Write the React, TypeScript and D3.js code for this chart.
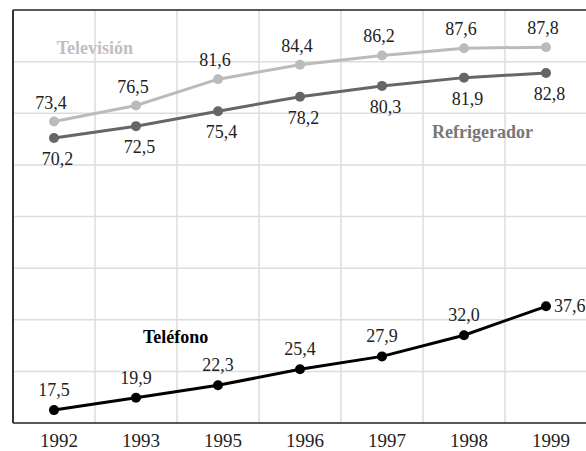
import React from "react";
import * as d3 from "d3";

const years = ["1992", "1993", "1995", "1996", "1997", "1998", "1999"];
const television = [73.4, 76.5, 81.6, 84.4, 86.2, 87.6, 87.8];
const refrigerador = [70.2, 72.5, 75.4, 78.2, 80.3, 81.9, 82.8];
const telefono = [17.5, 19.9, 22.3, 25.4, 27.9, 32.0, 37.6];
const yTicks = [15, 25, 35, 45, 55, 65, 75, 85, 95];

const W = 586;
const H = 451;
const left = 13;
const right = 587;
const top = 10;
const bottom = 423;

const fmt = (v: number) => v.toFixed(1).replace(".", ",");
const serif = "Liberation Serif, Times New Roman, serif";
const ts: React.CSSProperties = { fontFamily: serif };

export default function App() {
  const x = d3.scaleBand<string>().domain(years).range([left, right]).padding(0);
  const y = d3.scaleLinear().domain([15, 95]).range([bottom, top]);
  const cx = (i: number) => (x(years[i]) as number) + x.bandwidth() / 2;
  const line = d3
    .line<number>()
    .x((_, i) => cx(i))
    .y((d) => y(d));

  const series = [
    { data: television, color: "#bbbbbb" },
    { data: refrigerador, color: "#666666" },
    { data: telefono, color: "#000000" },
  ];

  return (
    <div style={{ position: "fixed", left: 0, top: 0 }}>
      <svg width={W} height={H} style={{ display: "block", fontFamily: serif }}>
        <rect x={0} y={0} width={W} height={H} fill="#fff" />
        {yTicks.slice(1, -1).map((t) => (
          <line key={"h" + t} x1={left} x2={right} y1={y(t)} y2={y(t)} stroke="#dddddd" strokeWidth={1.5} />
        ))}
        {years.slice(1).map((yr) => (
          <line key={"v" + yr} x1={x(yr) as number} x2={x(yr) as number} y1={top} y2={bottom} stroke="#dddddd" strokeWidth={1.5} />
        ))}
        <line x1={left} x2={W} y1={top} y2={top} stroke="#222" strokeWidth={1.5} />
        <line x1={left} x2={W} y1={bottom} y2={bottom} stroke="#222" strokeWidth={1.5} />
        <line x1={left} x2={left} y1={top} y2={bottom} stroke="#333" strokeWidth={2} />

        {series.map((s, si) => (
          <g key={si}>
            <path d={line(s.data) || ""} fill="none" stroke={s.color} strokeWidth={3} />
            {s.data.map((v, i) => (
              <circle key={i} cx={cx(i)} cy={y(v)} r={5} fill={s.color} />
            ))}
          </g>
        ))}

        {television.map((v, i) => (
          <text key={"tv" + i} style={ts} x={cx(i) - 3} y={y(v) - 13} textAnchor="middle" fontSize={18} fill="#222">
            {fmt(v)}
          </text>
        ))}
        {refrigerador.map((v, i) => (
          <text key={"rf" + i} style={ts} x={cx(i) + 3.5} y={y(v) + 27} textAnchor="middle" fontSize={18} fill="#222">
            {fmt(v)}
          </text>
        ))}
        {telefono.map((v, i) =>
          i === telefono.length - 1 ? (
            <text key={"tl" + i} style={ts} x={cx(i) + 8} y={y(v) + 6} textAnchor="start" fontSize={18} fill="#222">
              {fmt(v)}
            </text>
          ) : (
            <text key={"tl" + i} style={ts} x={cx(i)} y={y(v) - 14} textAnchor="middle" fontSize={18} fill="#222">
              {fmt(v)}
            </text>
          )
        )}

        <text style={ts} x={56.7} y={54} fontSize={18} fontWeight="bold" fill="#c0c0c0">Televisión</text>
        <text style={ts} x={432} y={138} fontSize={18} fontWeight="bold" fill="#777777">Refrigerador</text>
        <text style={ts} x={143} y={343} fontSize={18} fontWeight="bold" fill="#000">Teléfono</text>

        {years.map((yr, i) => (
          <text key={"x" + yr} style={ts} x={cx(i) + 5} y={447} textAnchor="middle" fontSize={19} fill="#222">
            {yr}
          </text>
        ))}
      </svg>
    </div>
  );
}
